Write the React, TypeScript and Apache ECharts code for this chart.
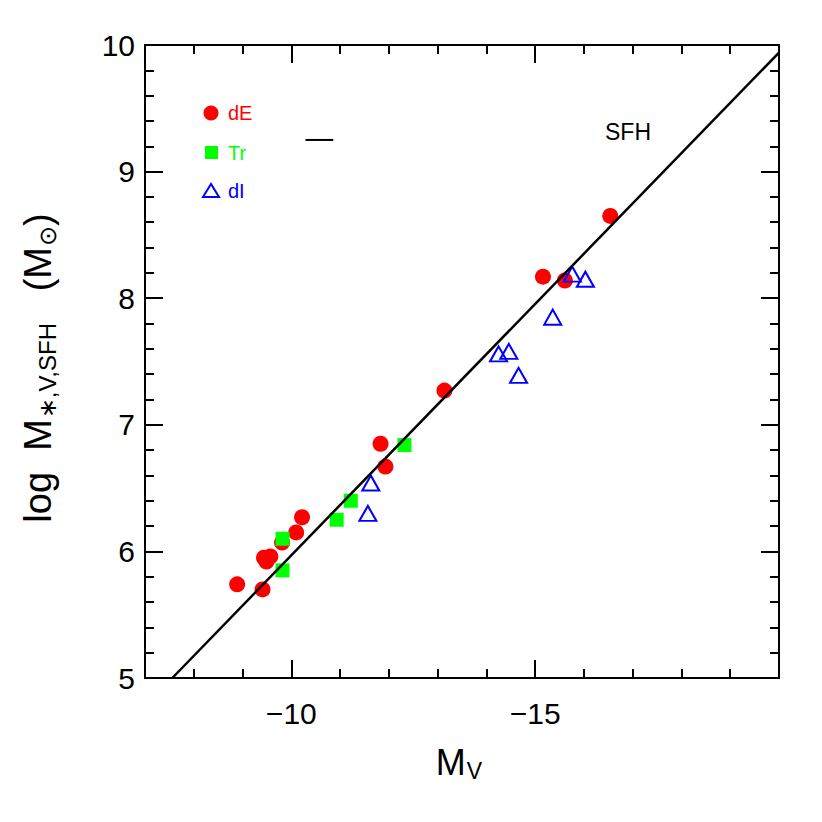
import React, { useEffect, useRef } from "react";
import * as echarts from "echarts";

// dE (red circles)
const dE_Mv = [-8.89, -9.41, -9.44, -9.57, -9.49, -9.81, -10.10, -10.22, -11.83, -11.93, -13.14, -15.16, -15.61, -16.54];
const dE_logM = [5.74, 5.70, 5.95, 5.96, 5.92, 6.07, 6.15, 6.27, 6.85, 6.67, 7.27, 8.17, 8.14, 8.65];
// Tr (green squares)
const Tr_Mv = [-9.82, -9.82, -10.93, -11.22, -12.32];
const Tr_logM = [6.10, 5.85, 6.25, 6.40, 6.84];
// dI (blue triangles)
const dI_Mv = [-11.63, -11.57, -14.25, -14.46, -14.66, -15.36, -15.76, -16.03];
const dI_logM = [6.54, 6.30, 7.56, 7.58, 7.39, 7.85, 8.19, 8.15];
// SFH relation line
const sfhMv = [-7.56, -20];
const sfhLogM = [5.0, 9.94];
// error bar
const errMv = [-10.29, -10.86];
const errLogM = [9.25, 9.25];

const xTickLabels = [-10, -15];
const yTickLabels = [5, 6, 7, 8, 9, 10];

const FONT = "Liberation Sans, Arial, sans-serif";
const zip = (a: number[], b: number[]) => a.map((v, i) => [v, b[i]]);

export default function App() {
  const ref = useRef<HTMLDivElement>(null);
  useEffect(() => {
    if (!ref.current) return;
    const chart = echarts.init(ref.current, null, { renderer: "svg" });
    const axisLine = { show: true, lineStyle: { color: "#000", width: 2 } };
    const xBase = {
      type: "value",
      min: -20,
      max: -7,
      inverse: true,
      splitLine: { show: false },
      axisLine,
    };
    const yBase = {
      type: "value",
      min: 5,
      max: 10,
      interval: 1,
      splitLine: { show: false },
      axisLine,
      axisTick: { inside: true, length: 18, lineStyle: { color: "#000", width: 2 } },
      minorTick: { show: true, splitNumber: 5, length: 9, lineStyle: { color: "#000", width: 2 } },
    };
    chart.setOption({
      animation: false,
      backgroundColor: "#fff",
      grid: { left: 145, top: 45, right: 43, bottom: 144, containLabel: false },
      xAxis: [
        {
          ...xBase,
          position: "bottom",
          interval: 1,
          axisTick: { inside: true, length: 9, lineStyle: { color: "#000", width: 2 } },
          axisLabel: {
            show: true,
            margin: 20,
            fontSize: 30,
            fontFamily: FONT,
            color: "#000",
            formatter: (v: number) => (xTickLabels.includes(Math.round(v)) && Math.abs(v - Math.round(v)) < 1e-6 ? "\u2212" + Math.abs(Math.round(v)) : ""),
          },
        },
        {
          ...xBase,
          position: "bottom",
          interval: 5,
          axisLine: { show: false },
          axisTick: { inside: true, length: 18, lineStyle: { color: "#000", width: 2 } },
          axisLabel: { show: false },
        },
        {
          ...xBase,
          position: "top",
          interval: 1,
          axisTick: { inside: true, length: 9, lineStyle: { color: "#000", width: 2 } },
          axisLabel: { show: false },
        },
        {
          ...xBase,
          position: "top",
          interval: 5,
          axisLine: { show: false },
          axisTick: { inside: true, length: 18, lineStyle: { color: "#000", width: 2 } },
          axisLabel: { show: false },
        },
      ],
      yAxis: [
        {
          ...yBase,
          position: "left",
          axisLabel: {
            show: true,
            margin: 10,
            fontSize: 30,
            fontFamily: FONT,
            color: "#000",
            formatter: (v: number) => (yTickLabels.includes(v) ? String(v) : ""),
          },
        },
        { ...yBase, position: "right", axisLabel: { show: false } },
      ],
      graphic: [
        {
          type: "text",
          x: 459,
          y: 762,
          style: {
            text: "{a|M}{b|V}",
            align: "center",
            verticalAlign: "middle",
            rich: {
              a: { fontSize: 36, fontFamily: FONT, fill: "#000" },
              b: { fontSize: 23, fontFamily: FONT, fill: "#000", padding: [18, 0, 0, 1] },
            },
          },
        },
        {
          type: "text",
          x: 38,
          y: 368,
          rotation: Math.PI / 2,
          style: {
            text: "{a|log  M}{b|\u2217,V,SFH}{a|   (M}{b|\u2299}{a|)}",
            align: "center",
            verticalAlign: "middle",
            rich: {
              a: { fontSize: 38, fontFamily: FONT, fill: "#000" },
              b: { fontSize: 24, fontFamily: FONT, fill: "#000", padding: [18, 0, 0, 1] },
            },
          },
        },
        { type: "circle", shape: { cx: 211, cy: 113, r: 7.5 }, style: { fill: "#ff0000" } },
        { type: "text", x: 228, y: 113, style: { text: "dE", fill: "#ff0000", fontSize: 20, fontFamily: FONT, verticalAlign: "middle" } },
        { type: "rect", shape: { x: 205, y: 146, width: 13, height: 13 }, style: { fill: "#00ff00" } },
        { type: "text", x: 228, y: 153, style: { text: "Tr", fill: "#00ff00", fontSize: 20, fontFamily: FONT, verticalAlign: "middle" } },
        { type: "polygon", shape: { points: [[211, 184], [203, 197], [219, 197]] }, style: { fill: "none", stroke: "#0000ff", lineWidth: 2 } },
        { type: "text", x: 228, y: 191, style: { text: "dI", fill: "#0000ff", fontSize: 20, fontFamily: FONT, verticalAlign: "middle" } },
        { type: "text", x: 628, y: 132, style: { text: "SFH", fill: "#000", fontSize: 23, fontFamily: FONT, align: "center", verticalAlign: "middle" } },
      ],
      series: [
        {
          type: "scatter",
          name: "dE",
          data: zip(dE_Mv, dE_logM),
          symbol: "circle",
          symbolSize: 16,
          itemStyle: { color: "#ff0000", opacity: 1 },
          z: 2,
        },
        {
          type: "scatter",
          name: "Tr",
          data: zip(Tr_Mv, Tr_logM),
          symbol: "rect",
          symbolSize: 14,
          itemStyle: { color: "#00ff00", opacity: 1 },
          z: 3,
        },
        {
          type: "scatter",
          name: "dI",
          data: zip(dI_Mv, dI_logM),
          symbol: "triangle",
          symbolSize: [17, 15],
          itemStyle: { color: "rgba(0,0,0,0)", borderColor: "#0000ff", borderWidth: 2, opacity: 1 },
          z: 4,
        },
        {
          type: "line",
          name: "SFH",
          data: zip(sfhMv, sfhLogM),
          symbol: "none",
          lineStyle: { color: "#000", width: 2.5 },
          z: 5,
        },
        {
          type: "line",
          name: "err",
          data: zip(errMv, errLogM),
          symbol: "none",
          lineStyle: { color: "#000", width: 2 },
          z: 5,
        },
      ],
    });
    return () => chart.dispose();
  }, []);
  return <div ref={ref} style={{ position: "fixed", left: 0, top: 0, width: 822, height: 822 }} />;
}
